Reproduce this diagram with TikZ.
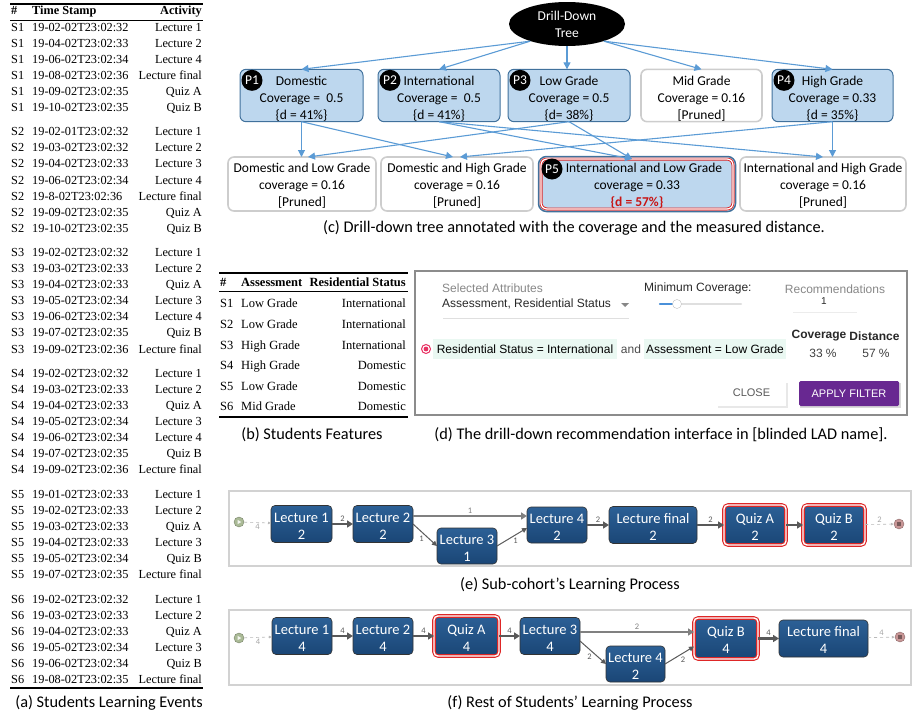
\documentclass[tikz,border=0pt]{standalone}
\usepackage{fontspec}
\setmainfont{Carlito}
\newfontfamily\tabfont{Liberation Serif}
\newfontfamily\uifont{Liberation Sans}
\usetikzlibrary{positioning,shapes.geometric,arrows.meta}

\definecolor{treefill}{RGB}{189,215,238}
\definecolor{treeline}{RGB}{65,113,156}
\definecolor{treearrow}{RGB}{91,155,213}
\definecolor{prunedline}{RGB}{205,205,205}
\definecolor{hlred}{RGB}{222,38,38}
\definecolor{dred}{RGB}{200,20,20}
\definecolor{proctop}{RGB}{44,96,150}
\definecolor{procbot}{RGB}{26,70,118}
\definecolor{framegray}{RGB}{210,210,210}
\definecolor{uiframe}{RGB}{140,140,140}
\definecolor{uigray}{RGB}{135,135,135}
\definecolor{uidark}{RGB}{40,40,40}
\definecolor{mint}{RGB}{234,248,242}
\definecolor{radiopink}{RGB}{232,48,98}
\definecolor{sliderblue}{RGB}{74,144,217}
\definecolor{uipurple}{RGB}{104,40,145}
\definecolor{startgreen}{RGB}{170,186,150}
\definecolor{endpink}{RGB}{200,150,150}

\newcommand\treetext{\fontsize{13.5}{17}\selectfont}
\newcommand\captext{\fontsize{16.3}{19}\selectfont}
\newcommand\proctext{\fontsize{14.5}{17}\selectfont}
\newcommand\tabtext{\tabfont\fontsize{12.3}{14}\selectfont}
\newcommand\tabbtext{\tabfont\fontsize{12.5}{14}\selectfont}
\newcommand\uitext{\uifont\fontsize{12}{14}\selectfont}
\newcommand\treestrut{\rule{0pt}{16.5pt}}
\newcommand\lowstrut{\rule{0pt}{12pt}}
\newcommand\procstrut{\rule{0pt}{13.5pt}}

\begin{document}
\begin{tikzpicture}[x=1pt, y=-1pt,
node distance = 8pt and 15pt,
kept/.style={rectangle, rounded corners=6pt, draw=treeline, fill=treefill, line width=1pt, align=center, minimum height=51pt, inner sep=0pt, outer sep=0pt, font=\treetext},
pruned/.style={kept, draw=prunedline, fill=white, line width=1.6pt},
chosen/.style={kept, draw=hlred, double=white, double distance=1.2pt, line width=0.9pt},
badge/.style={circle, fill=black, text=white, inner sep=0pt, minimum size=21pt, font=\treetext},
tarrow/.style={-{Triangle[length=7pt,width=7pt]}, treearrow, line width=1.1pt},
proc/.style={rectangle, rounded corners=4pt, draw=black!80, line width=0.6pt, top color=proctop, bottom color=procbot, text=white, align=center, minimum height=37pt, inner sep=1pt, outer sep=0pt, font=\proctext},
quiz/.style={proc, draw=hlred, double=white, double distance=1.4pt, line width=1.1pt, minimum height=40pt},
flow/.style={-{Triangle[length=6pt,width=7pt]}, black!65, line width=2.4pt},
tflow/.style={-{Triangle[length=5pt,width=5pt]}, black!65, line width=1pt},
glink/.style={-{Latex[length=3pt,width=3pt]}, dashed, gray!55, line width=0.6pt},
lbl/.style={font=\fontsize{8.5}{10}\selectfont, inner sep=1.5pt},
glbl/.style={lbl, text=gray!70},
tabcell/.style={font=\tabtext, inner sep=0pt},
tabbcell/.style={font=\tabbtext, inner sep=0pt},
ui/.style={font=\uitext, inner sep=0pt},
captxt/.style={font=\captext, inner sep=0pt}]

\useasboundingbox (0,0) rectangle (914,715);

% (a) students learning events
\draw[line width=1.2pt] (10,4) -- (203,4);
\draw[line width=0.5pt] (10,20) -- (203,20);
\draw[line width=1.2pt] (10,688) -- (203,688);
\node[tabcell, anchor=mid west] (ahs) at (11,12.5) {\bfseries \#};
\node[tabcell, anchor=mid west] (aht) at (32,12.5) {\bfseries Time Stamp};
\node[tabcell, anchor=mid east] (aha) at (202,12.5) {\bfseries Activity};
\foreach \y/\s/\t/\a [count=\i] in {
 29/S1/19-02-02T23:02:32/Lecture 1, 45/S1/19-04-02T23:02:33/Lecture 2,
 61/S1/19-06-02T23:02:34/Lecture 4, 77/S1/19-08-02T23:02:36/Lecture final,
 93/S1/19-09-02T23:02:35/Quiz A, 109/S1/19-10-02T23:02:35/Quiz B,
 133/S2/19-02-01T23:02:32/Lecture 1, 149/S2/19-03-02T23:02:32/Lecture 2,
 165/S2/19-04-02T23:02:33/Lecture 3, 182/S2/19-06-02T23:02:34/Lecture 4,
 198/S2/19-8-02T23:02:36/Lecture final, 214/S2/19-09-02T23:02:35/Quiz A,
 230/S2/19-10-02T23:02:35/Quiz B,
 254/S3/19-02-02T23:02:32/Lecture 1, 270/S3/19-03-02T23:02:33/Lecture 2,
 286/S3/19-04-02T23:02:33/Quiz A, 302/S3/19-05-02T23:02:34/Lecture 3,
 318/S3/19-06-02T23:02:34/Lecture 4, 334/S3/19-07-02T23:02:35/Quiz B,
 351/S3/19-09-02T23:02:36/Lecture final,
 375/S4/19-02-02T23:02:32/Lecture 1, 391/S4/19-03-02T23:02:33/Lecture 2,
 407/S4/19-04-02T23:02:33/Quiz A, 423/S4/19-05-02T23:02:34/Lecture 3,
 439/S4/19-06-02T23:02:34/Lecture 4, 455/S4/19-07-02T23:02:35/Quiz B,
 471/S4/19-09-02T23:02:36/Lecture final,
 496/S5/19-01-02T23:02:33/Lecture 1, 512/S5/19-02-02T23:02:33/Lecture 2,
 528/S5/19-03-02T23:02:33/Quiz A, 544/S5/19-04-02T23:02:33/Lecture 3,
 560/S5/19-05-02T23:02:34/Quiz B, 576/S5/19-07-02T23:02:35/Lecture final,
 601/S6/19-02-02T23:02:32/Lecture 1, 617/S6/19-03-02T23:02:33/Lecture 2,
 633/S6/19-04-02T23:02:33/Quiz A, 649/S6/19-05-02T23:02:34/Lecture 3,
 665/S6/19-06-02T23:02:34/Quiz B, 681/S6/19-08-02T23:02:35/Lecture final}{
  \node[tabcell, anchor=mid west] (as\i) at (11,\y) {\s};
  \node[tabcell, anchor=mid west] (at\i) at (32,\y) {\t};
  \node[tabcell, anchor=mid east] (aa\i) at (202,\y) {\a};
}
\node[captxt] (capa) at (109,703) {(a) Students Learning Events};

% (b) students features
\draw[line width=1.2pt] (219,273) -- (408,273);
\draw[line width=0.5pt] (219,291) -- (408,291);
\draw[line width=1.2pt] (219,417) -- (408,417);
\node[tabbcell, anchor=mid west] (bhs) at (220,284) {\bfseries \#};
\node[tabbcell, anchor=mid west] (bha) at (241,284) {\bfseries Assessment};
\node[tabbcell, anchor=mid east] (bhr) at (406,284) {\bfseries Residential Status};
\foreach \y/\s/\g/\r [count=\i] in {305/S1/Low Grade/International,
 326/S2/Low Grade/International, 347/S3/High Grade/International,
 367/S4/High Grade/Domestic, 388/S5/Low Grade/Domestic, 408/S6/Mid Grade/Domestic}{
  \node[tabbcell, anchor=mid west] (bs\i) at (220,\y) {\s};
  \node[tabbcell, anchor=mid west] (bg\i) at (241,\y) {\g};
  \node[tabbcell, anchor=mid east] (br\i) at (406,\y) {\r};
}
\node[captxt] (capb) at (312,435) {(b) Students Features};

% (c) drill-down tree
\node[ellipse, fill=black, text=white, minimum width=116pt, minimum height=44pt, align=center, inner sep=0pt, font=\treetext] (root) at (567,24) {Drill-Down\\Tree};

\node[kept, minimum width=123pt] (p1) at (301.5,95.5) {\treestrut Domestic\\Coverage = \ 0.5\\\{d = 41\%\}};
\node[kept, minimum width=122pt] (p2) [right = 15pt of p1] {\treestrut International\\Coverage = \ 0.5\\\{d = 41\%\}};
\node[kept, minimum width=122pt] (p3) [right = 8pt of p2] {\treestrut Low Grade\\Coverage = 0.5\\\{d= 38\%\}};
\node[pruned, minimum width=121pt] (pmid) [right = 11pt of p3] {\treestrut Mid Grade\\Coverage = 0.16\\{[Pruned]}};
\node[kept, minimum width=121pt] (p4) [right = 10pt of pmid] {\treestrut High Grade\\Coverage = 0.33\\\{d = 35\%\}};

\node[pruned, minimum width=148pt, minimum height=54pt] (b1) at (302,184) {\lowstrut Domestic and Low Grade\\coverage = 0.16\\{[Pruned]}};
\node[pruned, minimum width=152pt, minimum height=54pt] (b2) [right = 5pt of b1] {\lowstrut Domestic and High Grade\\coverage = 0.16\\{[Pruned]}};
\node[chosen, minimum width=192pt, minimum height=50pt] (b3) [right = 8pt of b2] {\lowstrut\hspace*{14pt}International and Low Grade\\coverage = 0.33\\{\color{dred}\bfseries\{d = 57\%\}}};
\node[pruned, minimum width=166pt, minimum height=54pt] (b4) [right = 7pt of b3] {\lowstrut International and High Grade\\coverage = 0.16\\{[Pruned]}};
\draw[treeline, line width=1.5pt, rounded corners=8pt] ([shift={(-2.5pt,2.5pt)}]b3.north west) rectangle ([shift={(2.5pt,-2.5pt)}]b3.south east);

\node[badge] (bp1) at ([shift={(12pt,-11pt)}]p1.north west) {P1};
\node[badge] (bp2) at ([shift={(12pt,-11pt)}]p2.north west) {P2};
\node[badge] (bp3) at ([shift={(12pt,-11pt)}]p3.north west) {P3};
\node[badge] (bp4) at ([shift={(12pt,-11pt)}]p4.north west) {P4};
\node[badge] (bp5) at ([shift={(11pt,-10pt)}]b3.north west) {P5};

\draw[tarrow] (root.205) -- (p1.north);
\draw[tarrow] (root.205) -- (p2.north);
\draw[tarrow] (root.south) -- (root.south |- p3.north);
\draw[tarrow] (root.335) -- (pmid.north);
\draw[tarrow] (root.335) -- (p4.north);

\draw[tarrow] (p1.south) -- (p1.south |- b1.north);
\draw[tarrow] (p1.south) -- ([xshift=-4pt]b2.north);
\draw[tarrow] (p2.south) -- ([xshift=-5pt]b3.north);
\draw[tarrow] (p2.south) -- (b4.north);
\draw[tarrow] (p3.south) -- ([xshift=6pt]b1.north);
\draw[tarrow] (p3.south) -- ([xshift=-5pt]b3.north);
\draw[tarrow] (p4.south) -- ([xshift=3pt]b2.north);
\draw[tarrow] (p4.south) -- (p4.south |- b4.north);

\node[captxt] (capc) at (574,228) {(c) Drill-down tree annotated with the coverage and the measured distance.};

% (d) recommendation interface
\node[draw=uiframe, line width=2pt, minimum width=492pt, minimum height=144pt, inner sep=0pt] (uibox) at (661,343) {};
\node[ui, anchor=west, text=uigray] (selattr) at (442,288) {Selected Attributes};
\node[ui, anchor=west, text=uidark] (selval) at (442,304) {Assessment, Residential Status};
\fill[uigray] (621,303) -- (629,303) -- (625,307) -- cycle;
\draw[gray!25] (443,318) -- (629,318);
\node[ui, anchor=west, text=uidark] (mincov) at (644,288) {Minimum Coverage:};
\draw[gray!25, line width=2.5pt, line cap=round] (660,304) -- (741,304);
\draw[sliderblue, line width=2.5pt, line cap=round] (660,304) -- (676,304);
\node[circle, draw=gray!50, fill=white, minimum size=9pt, inner sep=0pt] (knob) at (677,304) {};
\node[ui, text=uigray] (recs) at (835,289) {Recommendations};
\node[ui, text=uidark, font=\uifont\fontsize{10}{12}\selectfont] (recn) at (824,301) {1};
\draw[gray!15] (793,312) -- (857,312);
\node[circle, draw=radiopink, line width=1pt, minimum size=9pt, inner sep=0pt] (radio) at (426,349) {};
\fill[radiopink] (radio.center) circle (2.4pt);
\node[ui, fill=mint, minimum width=184pt, minimum height=20pt, text=black] (cond1) at (525,349) {Residential Status = International};
\node[ui, text=black!70] (andtxt) at (631,349) {and};
\node[ui, fill=mint, minimum width=142pt, minimum height=20pt, text=black] (cond2) at (715,349) {Assessment = Low Grade};
\node[ui, text=uidark] (covh) at (819,336) {\bfseries Coverage};
\node[ui, text=uidark] (disth) at (874.5,336) {\bfseries Distance};
\node[ui, text=black!75] (covv) at (823,353) {33 \%};
\node[ui, text=black!75] (distv) at (876,353) {57 \%};
\fill[gray!18] (718,383) rectangle (788,408);
\node[ui, fill=white, minimum width=69pt, minimum height=25pt, text=black!65, font=\uifont\fontsize{11}{13}\selectfont] (closebtn) at (751.5,393) {CLOSE};
\fill[gray!30] (800,383) rectangle (901,408);
\node[ui, fill=uipurple, rounded corners=1.5pt, minimum width=100pt, minimum height=25pt, text=white, font=\uifont\fontsize{11}{13}\selectfont] (applybtn) at (849,393.5) {APPLY FILTER};
\node[captxt] (capd) at (661,435) {(d) The drill-down recommendation interface in [blinded LAD name].};

% (e) sub-cohort process
\node[draw=framegray, line width=1.2pt, minimum width=682pt, minimum height=75pt, inner sep=0pt] (eframe) at (570,528.5) {};
\node[circle, fill=startgreen, draw=startgreen!70!black, minimum size=10pt, inner sep=0pt] (es) at (239,522) {};
\fill[white!85!startgreen] ([shift={(-1.5pt,2.2pt)}]es.center) -- ++(3.8pt,-2.2pt) -- ++(-3.8pt,-2.2pt) -- cycle;
\node[proc, minimum width=61pt] (e1) at (301.5,524) {\procstrut Lecture 1\\2};
\node[proc, minimum width=60pt] (e2) [right = 21pt of e1] {\procstrut Lecture 2\\2};
\node[proc, minimum width=60pt, minimum height=36pt] (e3) at (467,546) {\procstrut Lecture 3\\1};
\node[proc, minimum width=60pt, minimum height=36pt] (e4) at (557,525) {\procstrut Lecture 4\\2};
\node[proc, minimum width=88pt] (e5) [right = 22pt of e4] {\procstrut Lecture final\\2};
\node[quiz, minimum width=62pt] (eqa) [right = 27pt of e5] {\procstrut Quiz A\\2};
\node[quiz, minimum width=62pt] (eqb) [right = 17pt of eqa] {\procstrut Quiz B\\2};
\node[circle, fill=endpink, draw=endpink!70!black, minimum size=10pt, inner sep=0pt] (ee) at (899,524) {};
\fill[endpink!60!black] ([shift={(-2pt,-2pt)}]ee.center) rectangle ([shift={(2pt,2pt)}]ee.center);

\draw[glink] (es) -- node[glbl, below] {4} (e1);
\draw[flow] (e1) -- node[lbl, above] {2} (e2);
\draw[flow, black!50] ([yshift=8pt]e2.east) -- node[lbl, above] {1} ([yshift=9pt]e4.west);
\draw[tflow] (e2.east) -- node[lbl, below left=-1pt] {1} (e3.west);
\draw[tflow] (e3.east) -- node[lbl, below right=-1pt] {1} ([yshift=-3pt]e4.west);
\draw[flow] (e4) -- node[lbl, above] {2} (e5);
\draw[flow] (e5) -- node[lbl, above] {2} (eqa);
\draw[flow] (eqa) -- (eqb);
\draw[glink] (eqb) -- node[glbl, above] {2} (ee);
\node[captxt] (cape) at (570,585) {(e) Sub-cohort’s Learning Process};

% (f) rest of students process
\node[draw=framegray, line width=1.2pt, minimum width=682pt, minimum height=75pt, inner sep=0pt] (fframe) at (570,647.5) {};
\node[circle, fill=startgreen, draw=startgreen!70!black, minimum size=10pt, inner sep=0pt] (fs) at (239,638) {};
\fill[white!85!startgreen] ([shift={(-1.5pt,2.2pt)}]fs.center) -- ++(3.8pt,-2.2pt) -- ++(-3.8pt,-2.2pt) -- cycle;
\node[proc, minimum width=60pt] (f1) at (302,636) {\procstrut Lecture 1\\4};
\node[proc, minimum width=60pt] (f2) [right = 21pt of f1] {\procstrut Lecture 2\\4};
\node[quiz, minimum width=65pt] (fqa) [right = 21pt of f2] {\procstrut Quiz A\\4};
\node[proc, minimum width=60pt] (f3) [right = 21pt of fqa] {\procstrut Lecture 3\\4};
\node[proc, minimum width=59pt, minimum height=36pt] (f4) at (635.5,664) {\procstrut Lecture 4\\2};
\node[quiz, minimum width=64pt, minimum height=41pt] (fqb) at (726,638.5) {\procstrut Quiz B\\4};
\node[proc, minimum width=89pt] (f5) [right = 21pt of fqb] {\procstrut Lecture final\\4};
\node[circle, fill=endpink, draw=endpink!70!black, minimum size=10pt, inner sep=0pt] (fe) at (900,637) {};
\fill[endpink!60!black] ([shift={(-2pt,-2pt)}]fe.center) rectangle ([shift={(2pt,2pt)}]fe.center);

\draw[glink] (fs) -- node[glbl, below] {4} (f1);
\draw[flow] (f1) -- node[lbl, above] {4} (f2);
\draw[flow] (f2) -- node[lbl, above] {4} (fqa);
\draw[flow] (fqa) -- node[lbl, above] {4} (f3);
\draw[flow, black!50] ([yshift=4pt]f3.east) -- node[lbl, above] {2} ([yshift=6.5pt]fqb.west);
\draw[tflow] ([yshift=-5pt]f3.east) -- node[lbl, below left=-1pt] {2} (f4.west);
\draw[tflow] (f4.east) -- node[lbl, below right=-1pt] {2} ([yshift=-8pt]fqb.west);
\draw[flow] (fqb) -- node[lbl, above] {4} (f5);
\draw[glink] (f5) -- node[glbl, above] {4} (fe);
\node[captxt] (capf) at (570,703) {(f) Rest of Students’ Learning Process};
\end{tikzpicture}
\end{document}
